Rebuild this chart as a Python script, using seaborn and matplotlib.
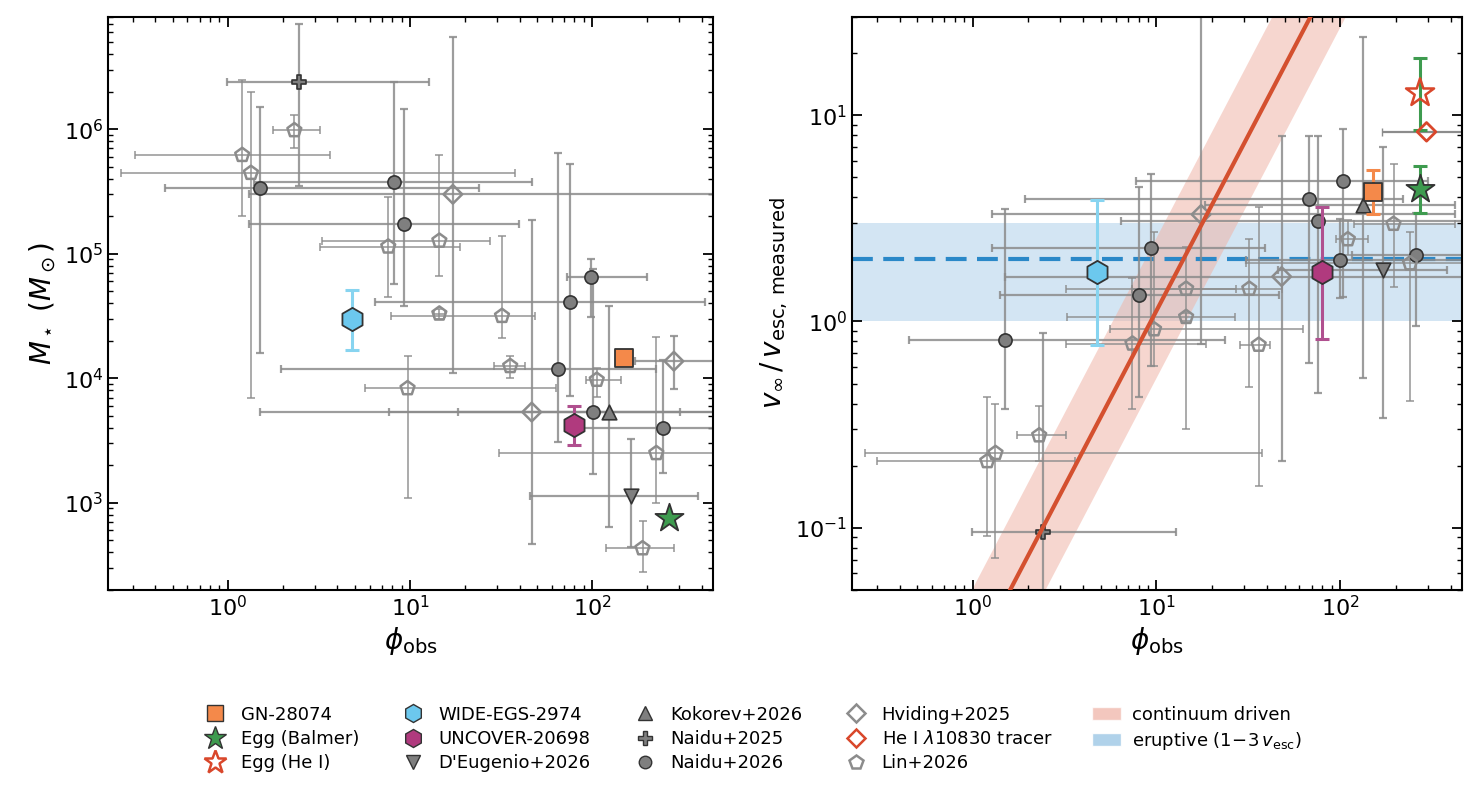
import numpy as np
import matplotlib
matplotlib.use("Agg")
import matplotlib.pyplot as plt
import seaborn as sns
import pandas as pd
from matplotlib.patches import Patch
from matplotlib.lines import Line2D

sns.set_theme(style="ticks")
plt.rcParams['font.family'] = ['DejaVu Sans']
plt.rcParams['mathtext.fontset'] = 'dejavusans'
plt.rcParams['text.color'] = 'black'
plt.rcParams['axes.labelcolor'] = 'black'
plt.rcParams['xtick.color'] = 'black'
plt.rcParams['ytick.color'] = 'black'

E = 600.0  # beyond axis edge

# ---------------- LEFT PANEL (phi, phi_lo, phi_hi, M, M_lo, M_hi) ----------------
n26_L_phi = [1.51, 8.14, 9.3, 98.6, 75.5, 65, 101, 245]
n26_L_plo = [0.45, 1.4, 1.3, 73, 6.4, 1.96, 7.7, 82]
n26_L_phi_hi = [23.9, 47, 39.8, 201, 417, 225, 302, E]
n26_L_M = [3.37e5, 3.8e5, 1.74e5, 6.5e4, 4.1e4, 1.18e4, 5350, 4000]
n26_L_Mlo = [1.6e4, 5.7e4, 3.8e4, 3.1e4, 7.2e3, 3.1e3, 1.7e3, 1730]
n26_L_Mhi = [1.5e6, 2.4e6, 1.45e6, 9.1e4, 5.3e5, 6.4e5, 7.6e4, 1.4e4]

lin_L_phi = [1.2, 1.34, 2.32, 7.6, 14.5, 14.5, 32, 35.5, 9.7, 106, 225, 189]
lin_L_plo = [0.31, 0.26, 1.77, 3.2, 3.3, 13.5, 7.86, 28.9, 5.7, 93, 31, 119]
lin_L_phi_hi = [3.65, 37.8, 3.2, 18.8, 27.4, 15.6, 48.3, 42.8, 63.6, 144, E, 283]
lin_L_M = [6.2e5, 4.45e5, 9.8e5, 1.14e5, 1.27e5, 3.3e4, 3.16e4, 1.25e4, 8300, 9700, 2500, 430]
lin_L_Mlo = [2e5, 7e3, 7.05e5, 4.5e4, 6.6e4, 3.0e4, 2.1e4, 1e4, 1.1e3, 7.1e3, 1000, 280]
lin_L_Mhi = [2.5e6, 2e6, 1.3e6, 2.85e5, 6.2e5, 3.6e4, 1.4e5, 1.5e4, 1.5e4, 1.2e4, 2.15e4, 710]

hv_L_phi = [17.2, 46.6, 281]
hv_L_plo = [1.3, 1.5, 172]
hv_L_phi_hi = [E, E, E]
hv_L_M = [3.0e5, 5350, 1.37e4]
hv_L_Mlo = [1.1e4, 470, 8.2e3]
hv_L_Mhi = [5.5e6, 1.85e5, 2.2e4]

n25_L = dict(phi=2.45, plo=0.99, phi_hi=12.8, y=2.4e6, ylo=3.5e5, yhi=7e6)
kok_L = dict(phi=123, plo=18.3, phi_hi=E, y=5400, ylo=640, yhi=3.8e4)
deu_L = dict(phi=163, plo=45.7, phi_hi=380, y=1140, ylo=440, yhi=3240)
gn_L = dict(phi=150, y=1.45e4)
egg_L = dict(phi=265, y=750)
wide_L = dict(phi=4.8, y=3.0e4, ylo=1.7e4, yhi=5.1e4)
unc_L = dict(phi=80, y=4200, ylo=2.9e3, yhi=6.0e3)

# ---------------- RIGHT PANEL (phi, phi_lo, phi_hi, v, v_lo, v_hi) ----------------
n26_R_phi = [1.5, 8.06, 9.3, 104, 76, 68, 100, 260]
n26_R_plo = [0.45, 1.4, 1.28, 7.7, 6.4, 1.93, 30.6, 116]
n26_R_phi_hi = [23.7, 46.7, 39, 300, E, 219, E, E]
n26_R_v = [0.81, 1.35, 2.28, 4.77, 3.08, 3.94, 1.99, 2.09]
n26_R_vlo = [0.377, 0.43, 0.61, 1.31, 0.45, 0.63, 1.3, 0.95]
n26_R_vhi = [3.5, 4.47, 5.2, 8.6, 7.9, 7.9, 3.12, 3.37]

lin_R_phi = [1.2, 1.33, 2.3, 7.4, 14.5, 14.5, 9.7, 32, 36, 110, 195, 240]
lin_R_plo = [0.3, 0.26, 1.75, 3.2, 3.2, 3.27, 5.6, 7.4, 28.5, 95, 119, 30.6]
lin_R_phi_hi = [3.6, 37.5, 3.2, 18.5, 27, 26.9, 62.6, 48, 41.7, 142, 420, E]
lin_R_v = [0.21, 0.23, 0.28, 0.78, 1.44, 1.05, 0.915, 1.44, 0.77, 2.5, 2.97, 1.91]
lin_R_vlo = [0.091, 0.071, 0.21, 0.377, 0.30, 1.0, 0.61, 0.48, 0.16, 2.1, 1.47, 0.41]
lin_R_vhi = [0.43, 0.40, 0.39, 1.63, 2.3, 1.1, 2.7, 2.5, 3.6, 3.1, 5.8, 2.7]

hv_R_phi = [17.5, 48]
hv_R_plo = [1.28, 1.49]
hv_R_phi_hi = [420, E]
hv_R_v = [3.3, 1.65]
hv_R_vlo = [0.78, 0.21]
hv_R_vhi = [40, 7.9]

n25_R = dict(phi=2.42, plo=0.99, phi_hi=12.7, y=0.095, ylo=0.03, yhi=0.88)
kok_R = dict(phi=133, plo=18.3, phi_hi=420, y=3.65, ylo=0.53, yhi=24)
deu_R = dict(phi=172, plo=45.7, phi_hi=380, y=1.77, ylo=0.34, yhi=7.0)
gn_R = dict(phi=150, y=4.26, ylo=3.33, yhi=5.45)
eggB_R = dict(phi=272, y=4.4, ylo=3.37, yhi=5.7)
eggH_R = dict(phi=272, y=12.8, ylo=8.5, yhi=19)
heI_R = dict(phi=295, plo=168, phi_hi=E, y=8.3)
wide_R = dict(phi=4.73, y=1.73, ylo=0.77, yhi=3.9)
unc_R = dict(phi=80, y=1.73, ylo=0.82, yhi=3.6)

# continuum-driven relation and eruptive band
cont_phi = np.logspace(-1, 3, 200)
cont_norm, cont_slope = 0.0225, 1.7
cont_lo_fac, cont_hi_fac = 0.47, 2.25
erupt_lo, erupt_mid, erupt_hi = 1.0, 2.0, 3.0

# ---------------- colours ----------------
GRAY = '#7f7f7f'
EGRAY = '#8c8c8c'
DARK = '#333333'
C_GN = '#f4894a'
C_EGG = '#3e9b4f'
C_RED = '#d9472b'
C_WIDE = '#6cc8ee'
C_UNC = '#b03a7e'

fig = plt.figure(figsize=(14.79, 7.97), dpi=100)
axL = fig.add_axes([0.073, 0.26, 0.409, 0.719])
axR = fig.add_axes([0.576, 0.26, 0.4125, 0.719])


def asym(v, lo, hi):
    v = np.asarray(v, float); lo = np.asarray(lo, float); hi = np.asarray(hi, float)
    return np.vstack([v - lo, hi - v])


def ebars(ax, phi, plo, phih, y, ylo, yhi, lw=1.6):
    ax.errorbar(phi, y, xerr=asym(phi, plo, phih), yerr=asym(y, ylo, yhi), fmt='none',
                ecolor=EGRAY, elinewidth=lw, capsize=3, capthick=lw, alpha=0.85, zorder=2)


def scat(ax, phi, y, marker, fc, ec, s, lw=1.2, z=3, alpha=1.0):
    df = pd.DataFrame({'phi': np.atleast_1d(phi), 'y': np.atleast_1d(y)})
    sns.scatterplot(data=df, x='phi', y='y', ax=ax, marker=marker, s=s, color=fc,
                    edgecolor=ec, linewidth=lw, zorder=z, alpha=alpha, legend=False)


def single(ax, d, marker, fc, ec, s, lw=1.2):
    ebars(ax, [d['phi']], [d['plo']], [d['phi_hi']], [d['y']], [d['ylo']], [d['yhi']])
    scat(ax, d['phi'], d['y'], marker, fc, ec, s, lw)


def special(ax, d, marker, fc, ec, s, ecol, lw=1.3, z=6):
    if 'ylo' in d:
        ax.errorbar([d['phi']], [d['y']], yerr=asym([d['y']], [d['ylo']], [d['yhi']]), fmt='none',
                    ecolor=ecol, elinewidth=2.2, capsize=5, capthick=2.2, zorder=z - 1)
    scat(ax, d['phi'], d['y'], marker, fc, ec, s, lw, z=z)


# ---- left ----
ebars(axL, n26_L_phi, n26_L_plo, n26_L_phi_hi, n26_L_M, n26_L_Mlo, n26_L_Mhi)
ebars(axL, lin_L_phi, lin_L_plo, lin_L_phi_hi, lin_L_M, lin_L_Mlo, lin_L_Mhi, lw=1.2)
ebars(axL, hv_L_phi, hv_L_plo, hv_L_phi_hi, hv_L_M, hv_L_Mlo, hv_L_Mhi)
scat(axL, n26_L_phi, n26_L_M, 'o', GRAY, DARK, 90)
scat(axL, lin_L_phi, lin_L_M, 'p', 'none', EGRAY, 110, lw=1.8)
scat(axL, hv_L_phi, hv_L_M, 'D', 'none', EGRAY, 90, lw=1.8)
single(axL, n25_L, 'P', GRAY, DARK, 110)
single(axL, kok_L, '^', GRAY, DARK, 110)
single(axL, deu_L, 'v', GRAY, DARK, 110)
special(axL, gn_L, 's', C_GN, DARK, 170, C_GN)
special(axL, egg_L, '*', C_EGG, DARK, 450, C_EGG)
special(axL, wide_L, 'h', C_WIDE, DARK, 280, '#87d4f0')
special(axL, unc_L, 'h', C_UNC, DARK, 280, '#b0508f')

# ---- right ----
axR.fill_between(cont_phi, cont_norm * cont_phi ** cont_slope * cont_lo_fac,
                 cont_norm * cont_phi ** cont_slope * cont_hi_fac, color='#f0b5a8', alpha=0.55,
                 lw=0, zorder=0.5)
axR.plot(cont_phi, cont_norm * cont_phi ** cont_slope, color='#d4502f', lw=3, zorder=4)
axR.axhspan(erupt_lo, erupt_hi, color='#a8cde8', alpha=0.5, lw=0, zorder=0.3)
axR.axhline(erupt_mid, color='#2a88c8', lw=3, ls=(0, (5, 2.5)), zorder=1)

ebars(axR, n26_R_phi, n26_R_plo, n26_R_phi_hi, n26_R_v, n26_R_vlo, n26_R_vhi)
ebars(axR, lin_R_phi, lin_R_plo, lin_R_phi_hi, lin_R_v, lin_R_vlo, lin_R_vhi, lw=1.2)
ebars(axR, hv_R_phi, hv_R_plo, hv_R_phi_hi, hv_R_v, hv_R_vlo, hv_R_vhi)
scat(axR, n26_R_phi, n26_R_v, 'o', GRAY, DARK, 90)
scat(axR, lin_R_phi, lin_R_v, 'p', 'none', EGRAY, 110, lw=1.8)
scat(axR, hv_R_phi, hv_R_v, 'D', 'none', EGRAY, 90, lw=1.8)
single(axR, n25_R, 'P', GRAY, DARK, 110)
single(axR, kok_R, '^', GRAY, DARK, 110)
single(axR, deu_R, 'v', GRAY, DARK, 110)
axR.errorbar([heI_R['phi']], [heI_R['y']], xerr=asym([heI_R['phi']], [heI_R['plo']], [heI_R['phi_hi']]),
             fmt='none', ecolor=EGRAY, elinewidth=1.6, capsize=3, zorder=2)
scat(axR, heI_R['phi'], heI_R['y'], 'D', 'none', C_RED, 90, lw=2, z=6)
special(axR, gn_R, 's', C_GN, DARK, 170, C_GN)
special(axR, eggB_R, '*', C_EGG, DARK, 450, C_EGG)
special(axR, eggH_R, '*', 'none', C_RED, 450, C_EGG, lw=1.8)
special(axR, wide_R, 'h', C_WIDE, DARK, 280, '#87d4f0')
special(axR, unc_R, 'h', C_UNC, DARK, 280, '#b0508f')

for ax in (axL, axR):
    ax.set_xscale('log'); ax.set_yscale('log')
    ax.set_xlim(0.22, 460)
    ax.tick_params(which='both', direction='in', top=True, right=True, labelsize=16)
    ax.tick_params(which='major', length=7, width=1.3)
    ax.tick_params(which='minor', length=3.5, width=1)
    for sp in ax.spines.values():
        sp.set_linewidth(1.5); sp.set_color('black')
    ax.set_xlabel(r'$\phi_{\rm obs}$', fontsize=20)
axL.set_ylim(200, 8e6)
axR.set_ylim(0.05, 30)
axL.set_ylabel(r'$M_\star\ (M_\odot)$', fontsize=20)
axR.set_ylabel(r'$v_\infty\,/\,v_{\rm esc,\,measured}$', fontsize=20)

handles = [
    Line2D([], [], ls='none', marker='s', ms=11, mfc=C_GN, mec=DARK, label='GN-28074'),
    Line2D([], [], ls='none', marker='*', ms=17, mfc=C_EGG, mec=DARK, label='Egg (Balmer)'),
    Line2D([], [], ls='none', marker='*', ms=17, mfc='none', mec=C_RED, mew=1.8, label='Egg (He I)'),
    Line2D([], [], ls='none', marker='h', ms=13, mfc=C_WIDE, mec=DARK, label='WIDE-EGS-2974'),
    Line2D([], [], ls='none', marker='h', ms=13, mfc=C_UNC, mec=DARK, label='UNCOVER-20698'),
    Line2D([], [], ls='none', marker='v', ms=10, mfc=GRAY, mec=DARK, label="D'Eugenio+2026"),
    Line2D([], [], ls='none', marker='^', ms=10, mfc=GRAY, mec=DARK, label='Kokorev+2026'),
    Line2D([], [], ls='none', marker='P', ms=10, mfc=GRAY, mec=DARK, label='Naidu+2025'),
    Line2D([], [], ls='none', marker='o', ms=9, mfc=GRAY, mec=DARK, label='Naidu+2026'),
    Line2D([], [], ls='none', marker='D', ms=9, mfc='none', mec=EGRAY, mew=1.8, label='Hviding+2025'),
    Line2D([], [], ls='none', marker='D', ms=9, mfc='none', mec=C_RED, mew=1.8, label=r'He I $\lambda$10830 tracer'),
    Line2D([], [], ls='none', marker='p', ms=10, mfc='none', mec=EGRAY, mew=1.8, label='Lin+2026'),
    Patch(facecolor='#f0b5a8', alpha=0.75, label='continuum driven'),
    Patch(facecolor='#a8cde8', alpha=0.9, label=r'eruptive ($1\!-\!3\,v_{\rm esc}$)'),
]
fig.legend(handles=handles, loc='upper center', bbox_to_anchor=(0.508, 0.135), ncol=5,
           frameon=False, fontsize=13, handletextpad=0.6, columnspacing=2.2, labelspacing=0.35,
           handlelength=1.6)

fig.savefig('out.png', dpi=100)
